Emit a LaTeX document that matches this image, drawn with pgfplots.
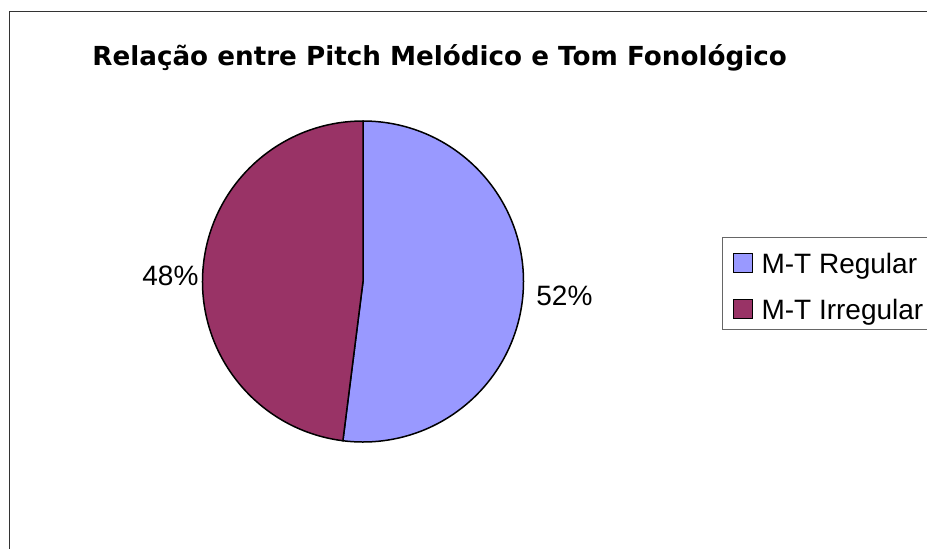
\documentclass[border=0pt]{standalone}
\usepackage{fontspec}
\setmainfont{Liberation Sans}
\newfontfamily\titlefont{DejaVu Sans}
\usepackage{pgfplots}
\pgfplotsset{compat=1.18}
\usepackage{pgfplotstable}

\definecolor{regular}{HTML}{9999FF}
\definecolor{irregular}{HTML}{993366}
\definecolor{framecol}{HTML}{333333}
\definecolor{legcol}{HTML}{666666}

% share of each category, in percent
\pgfplotstableread{
label value
{M-T Regular} 52
{M-T Irregular} 48
}\piedata

\pgfplotstablegetelem{0}{value}\of\piedata \let\valA\pgfplotsretval
\pgfplotstablegetelem{1}{value}\of\piedata \let\valB\pgfplotsretval
% Excel style: start at 12 o'clock, go clockwise
\pgfmathsetmacro\angA{90-3.6*\valA}
\def\pierad{80.25pt}

\begin{document}
\begin{tikzpicture}
\begin{axis}[
    at={(0,0)}, anchor=south west,
    scale only axis,
    width=463.5pt, height=274pt,
    xmin=0, xmax=927, ymin=0, ymax=548,
    y dir=reverse,
    hide axis,
    clip=false,
    legend image code/.code={\draw[#1,draw=black,line width=0.5pt] (0pt,0.5pt) rectangle (9.5pt,10pt);},
    legend style={
        at={(0.7789,0.5675)}, anchor=north west,
        draw=legcol, line width=0.5pt,
        inner xsep=5pt, inner ysep=5pt,
        row sep=10pt,
        font=\fontsize{14}{16}\selectfont,
        nodes={inner sep=0pt, text height=13pt, text depth=0pt},
        cells={anchor=base west},
        /tikz/every odd column/.append style={column sep=4.5pt},
    },
]
% frame of the chart area
\draw[framecol, line width=0.65pt] (axis cs:9.5,560) -- (axis cs:9.5,11.5) -- (axis cs:940,11.5);

\node[anchor=base west, inner sep=0pt, font=\titlefont\bfseries\fontsize{13.1}{15}\selectfont]
    at (axis cs:92,65) {Relação entre Pitch Melódico e Tom Fonológico};

% wedges
\filldraw[fill=regular, draw=black, line width=0.75pt]
    (axis cs:363,281.5) -- ++(90:\pierad)
    arc[start angle=90, end angle=\angA, radius=\pierad] -- cycle;
\filldraw[fill=irregular, draw=black, line width=0.75pt]
    (axis cs:363,281.5) -- ++(\angA:\pierad)
    arc[start angle=\angA, end angle=-270, radius=\pierad] -- cycle;

\node[anchor=base west, inner sep=0pt, font=\fontsize{14}{16}\selectfont] at (axis cs:142,285) {\valB\%};
\node[anchor=base west, inner sep=0pt, font=\fontsize{14}{16}\selectfont] at (axis cs:536,305) {\valA\%};

\addlegendimage{fill=regular}
\addlegendentry{M-T Regular}
\addlegendimage{fill=irregular}
\addlegendentry{M-T Irregular}
\end{axis}
\pgfresetboundingbox
\useasboundingbox (0,0) rectangle (463.5pt,274pt);
\end{tikzpicture}
\end{document}
